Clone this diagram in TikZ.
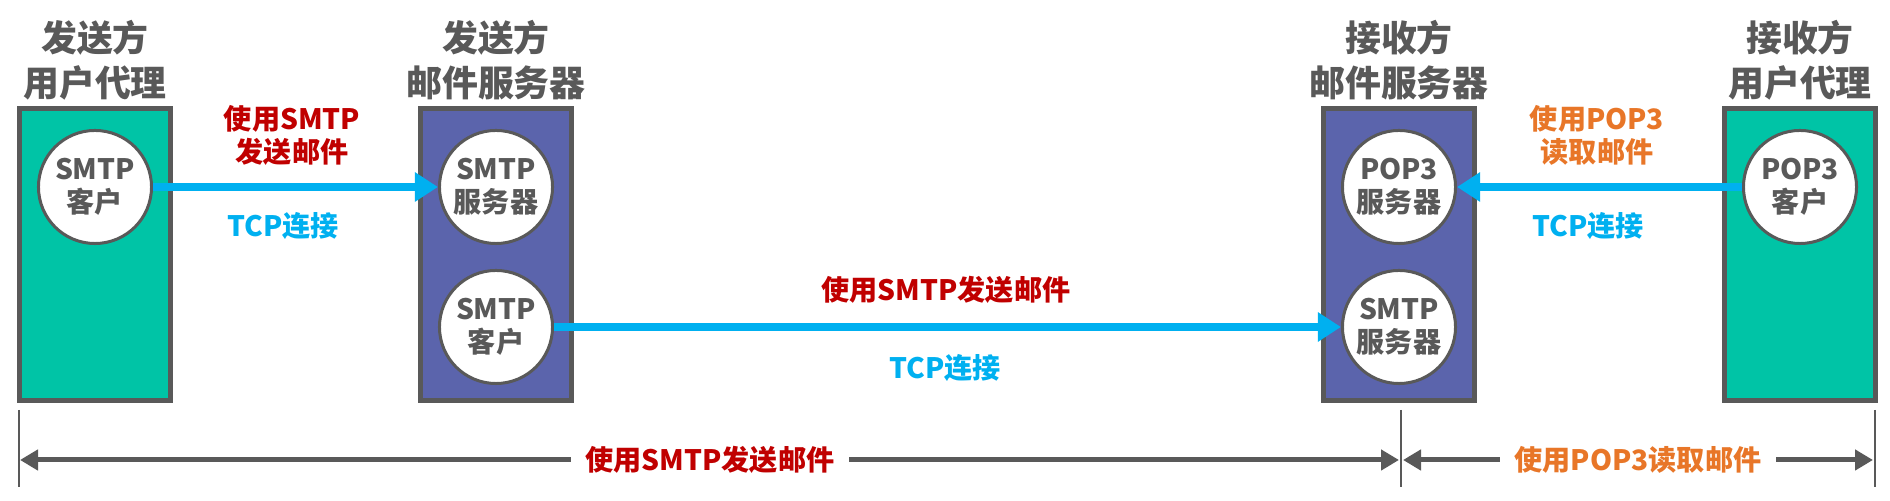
\documentclass[tikz,border=0pt]{standalone}
\usepackage{fontspec}
\setmainfont{Noto Sans CJK SC}
\usetikzlibrary{arrows.meta}
\definecolor{agentgreen}{RGB}{0,196,166}
\definecolor{serverblue}{RGB}{91,100,172}
\definecolor{edgegray}{RGB}{89,89,89}
\definecolor{tcpblue}{RGB}{0,176,240}
\definecolor{smtpred}{RGB}{192,0,0}
\definecolor{poporange}{RGB}{232,118,40}
\tikzset{
    host/.style={draw=edgegray, line width=0.05cm, minimum width=1.51cm, minimum height=2.92cm, inner sep=0pt},
    proc/.style={circle, draw=edgegray, line width=0.03cm, fill=white, minimum size=1.13cm, inner sep=0pt,
                 align=center, text=edgegray, font=\fontsize{8}{9.4}\selectfont\bfseries},
    hosttitle/.style={align=center, text=edgegray, font=\fontsize{10.2}{12.8}\selectfont\bfseries},
    lbl/.style={align=center, font=\fontsize{8}{9.4}\selectfont\bfseries},
    link/.style={draw=tcpblue, line width=0.08cm, -{Triangle[length=0.23cm,width=0.28cm]}},
    spanline/.style={draw=edgegray, line width=0.05cm, {Triangle[length=0.18cm,width=0.2cm]}-{Triangle[length=0.18cm,width=0.2cm]}},
    tickline/.style={draw=edgegray, line width=0.02cm}
}

\begin{document}
\begin{tikzpicture}[x=0.01cm,y=-0.01cm]
    \useasboundingbox (0,0) rectangle (1890,501);

    % hosts
    \node[host, fill=agentgreen] (ua1) at (95,254.5) {};
    \node[host, fill=serverblue] (ms1) at (496,254.5) {};
    \node[host, fill=serverblue] (ms2) at (1399,254.5) {};
    \node[host, fill=agentgreen] (ua2) at (1800,254.5) {};

    \node[hosttitle] (ua1-title) at (95,60) {发送方\\用户代理};
    \node[hosttitle] (ms1-title) at (496,60) {发送方\\邮件服务器};
    \node[hosttitle] (ms2-title) at (1399,60) {接收方\\邮件服务器};
    \node[hosttitle] (ua2-title) at (1800,60) {接收方\\用户代理};

    % processes
    \node[proc] (ua1-smtpc) at (95,187) {SMTP\\客户};
    \node[proc] (ms1-smtps) at (496,187) {SMTP\\服务器};
    \node[proc] (ms1-smtpc) at (496,327) {SMTP\\客户};
    \node[proc] (ms2-pops) at (1399,187) {POP3\\服务器};
    \node[proc] (ms2-smtps) at (1399,327) {SMTP\\服务器};
    \node[proc] (ua2-popc) at (1800,187) {POP3\\客户};

    \draw[link] (ua1-smtpc.east) -- (ms1-smtps.west);
    \draw[link] (ms1-smtpc.east) -- (ms2-smtps.west);
    \draw[link] (ua2-popc.west) -- (ms2-pops.east);

    \node[lbl, text=smtpred] (send1) at (292,135) {使用SMTP\\发送邮件};
    \node[lbl, text=tcpblue] (tcp1) at (283,226) {TCP连接};
    \node[lbl, text=smtpred] (send2) at (946,290) {使用SMTP发送邮件};
    \node[lbl, text=tcpblue] (tcp2) at (945,368) {TCP连接};
    \node[lbl, text=poporange] (read1) at (1597,135) {使用POP3\\读取邮件};
    \node[lbl, text=tcpblue] (tcp3) at (1588,226) {TCP连接};

    % ranges
    \coordinate (b1) at (19,460);
    \coordinate (b2) at (1401,460);
    \coordinate (b3) at (1875,460);
    \foreach \c in {b1,b2,b3}
        \draw[tickline] (\c) ++(0,-50) -- ++(0,77);

    \draw[spanline, shorten <=0.01cm, shorten >=0.02cm] (b1) -- (b2)
        node[lbl, midway, fill=white, inner xsep=0.15cm, text=smtpred] (range1) {使用SMTP发送邮件};
    \draw[spanline, shorten <=0.02cm, shorten >=0.02cm] (b2) -- (b3)
        node[lbl, midway, fill=white, inner xsep=0.15cm, text=poporange] (range2) {使用POP3读取邮件};
\end{tikzpicture}
\end{document}
